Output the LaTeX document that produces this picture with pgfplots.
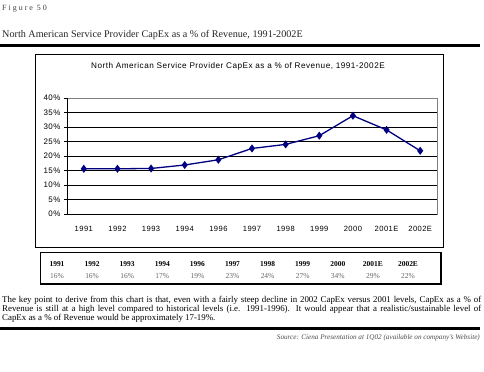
\documentclass[border=0pt]{standalone}
\usepackage{pgfplots}
\pgfplotsset{compat=1.18}
\usepackage{fontspec}
\setmainfont{Liberation Serif}
\newfontfamily\arial{Liberation Sans}
\newfontfamily\arialsp[LetterSpace=6]{Liberation Sans}
\newfontfamily\figsp[LetterSpace=25]{Liberation Serif}
\definecolor{navy}{RGB}{0,0,128}
\begin{document}
\begin{tikzpicture}[x=1bp,y=1bp]
\path[use as bounding box,fill=white] (0,0) rectangle (484,371);
% header
\node[anchor=west,inner sep=0,text=black!75,font=\figsp\fontsize{8}{9}\selectfont] at (2,362) {Figure 50};
\node[anchor=west,inner sep=0,text=black!85,font=\fontsize{10.2}{11}\selectfont] at (2,336) {North American Service Provider CapEx as a \% of Revenue, 1991-2002E};
\draw[line width=3bp] (0,326) -- (480,326);
% chart box
\draw[line width=0.7bp] (35,317) rectangle (443,124);
\node[inner sep=0,font=\arialsp\fontsize{8.2}{9}\selectfont] at (238,305) {North American Service Provider CapEx as a \% of Revenue, 1991-2002E};
\begin{axis}[
  at={(67bp,157bp)}, anchor=south west,
  scale only axis, width=370bp, height=116bp,
  xmin=-0.5, xmax=10.5, ymin=0, ymax=40,
  axis line style={draw=gray, line width=1bp},
  tick pos=left,
  xtick={0,...,10},
  xticklabels={1991,1992,1993,1994,1996,1997,1998,1999,2000,2001E,2002E},
  minor xtick={-0.5,0.5,...,10.5},
  ytick={0,5,...,40},
  yticklabel={\pgfmathprintnumber{\tick}\%},
  tick align=outside,
  xtick style={draw=none},
  minor tick length=3bp,
  major tick length=3bp,
  minor tick style={black, line width=0.6bp},
  ytick style={black, line width=0.6bp},
  x tick label style={font=\arialsp\fontsize{7.6}{9}\selectfont, yshift=-6bp},
  y tick label style={font=\arialsp\fontsize{8}{9}\selectfont},
  /pgf/number format/assume math mode=true,
  ymajorgrids,
  grid style={black, line width=0.7bp},
  clip=false,
]
\draw[black, line width=1bp] (rel axis cs:0,1) -- (rel axis cs:0,0) -- (rel axis cs:1,0);
\addplot[navy, line width=1.3bp, mark=diamond*, mark size=3bp] coordinates {
(0,15.6) (1,15.6) (2,15.7) (3,16.9) (4,18.7) (5,22.6) (6,24.0) (7,27.0) (8,33.9) (9,29.0) (10,21.8)};
\end{axis}
% table
\draw[line width=0.8bp] (40,119) rectangle (441,87);
\draw[line width=1.6bp] (40,87) -- (441,87) -- (441,119);
\foreach \lab/\val [count=\i from 0] in {1991/16\%,1992/16\%,1993/16\%,1994/17\%,1996/19\%,1997/23\%,1998/24\%,1999/27\%,2000/34\%,2001E/29\%,2002E/22\%}{
  \node[font=\bfseries\fontsize{7.5}{9}\selectfont] at (57+35.1*\i,107) {\lab};
  \node[text=black!60,font=\fontsize{7.5}{9}\selectfont] at (57+35.1*\i,95) {\val};
}
% paragraph
\node[anchor=north west,inner sep=0,text width=479bp,align=justify,font=\fontsize{8.9}{8.8}\selectfont] at (2,74.5) {The key point to derive from this chart is that, even with a fairly steep decline in 2002 CapEx versus 2001 levels, CapEx as a \% of\linebreak Revenue is still at a high level compared to historical levels (i.e. 1991-1996). It would appear that a realistic/sustainable level of\linebreak CapEx as a \% of Revenue would be approximately 17-19\%.};
\draw[line width=3bp] (0,43) -- (480,43);
\node[anchor=east,inner sep=0,text=black!70,font=\itshape\fontsize{7.2}{8}\selectfont] at (480,33) {Source: Ciena Presentation at 1Q02 (available on company's Website)};
\end{tikzpicture}
\end{document}
